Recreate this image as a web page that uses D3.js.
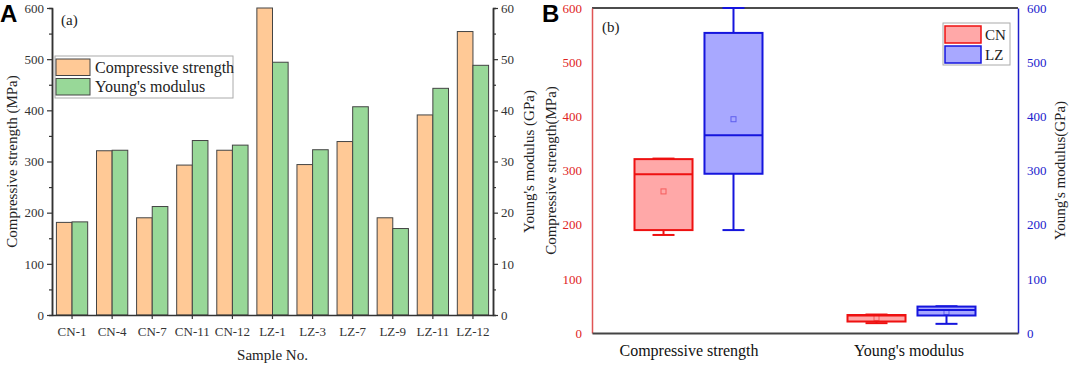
<!DOCTYPE html>
<html>
<head>
<meta charset="utf-8">
<script src="https://cdn.jsdelivr.net/npm/d3@7"></script>
<style>
  body { margin: 0; background: #fff; }
  svg { font-family: "Liberation Serif", "Times New Roman", serif; }
  .axis text { font-size: 13px; }
</style>
</head>
<body>
<svg id="chart" width="1072" height="366"></svg>
<script>
//data
var samples = ['CN-1', 'CN-4', 'CN-7', 'CN-11', 'CN-12', 'LZ-1', 'LZ-3', 'LZ-7', 'LZ-9', 'LZ-11', 'LZ-12'];
var compressive = [181, 321, 190, 293, 322, 600, 294, 339, 190, 391, 554];
var youngs = [18.2, 32.2, 21.2, 34.1, 33.2, 49.4, 32.3, 40.7, 16.9, 44.3, 48.8];
var barSeries = ['Compressive strength', "Young's modulus"];
var properties = ['Compressive strength', "Young's modulus"];
var groups = ['CN', 'LZ'];
var leftTicksA = [0, 100, 200, 300, 400, 500, 600];
var rightTicksA = [0, 10, 20, 30, 40, 50, 60];
var ticksB = [0, 100, 200, 300, 400, 500, 600];

//colors
var barFill = ['#ffc996', '#98d898'];
var boxStroke = {CN: '#ee1111', LZ: '#1515dd'};
var boxFill = {CN: '#ffa8a8', LZ: '#a8a8ff'};
var axisGray = '#333';

var svg = d3.select('#chart');

// ---------- panel A ----------
var aLeft = 52, aRight = 493, aTop = 8, aBottom = 315;

var xA = d3.scaleBand().domain(samples).range([aLeft, aRight]).paddingInner(0.22).paddingOuter(0.11);
var yA = d3.scaleLinear().domain([0, 600]).range([aBottom, aTop]);
var yA2 = d3.scaleLinear().domain([0, 60]).range([aBottom, aTop]);

var gA = svg.append('g');

samples.forEach(function(s, i) {
    var half = xA.bandwidth() / 2;
    gA.append('rect')
        .attr('x', xA(s))
        .attr('y', yA(compressive[i]))
        .attr('width', half)
        .attr('height', yA(0) - yA(compressive[i]))
        .attr('fill', barFill[0])
        .attr('stroke', '#444')
        .attr('stroke-width', 1);
    gA.append('rect')
        .attr('x', xA(s) + half)
        .attr('y', yA2(youngs[i]))
        .attr('width', half)
        .attr('height', yA2(0) - yA2(youngs[i]))
        .attr('fill', barFill[1])
        .attr('stroke', '#444')
        .attr('stroke-width', 1);
});

function styleAxis(g, color) {
    g.selectAll('path').attr('stroke', color).attr('stroke-width', 1.5);
    g.selectAll('line').attr('stroke', color).attr('stroke-width', 1.2);
    g.selectAll('text').attr('fill', color).style('font-size', '13px')
        .style('font-family', '"Liberation Serif", serif');
}

// minor ticks
var minorA = gA.append('g').attr('transform', 'translate(' + aLeft + ',0)')
    .call(d3.axisLeft(yA).tickValues(d3.range(50, 600, 100)).tickSize(3).tickFormat(''));
styleAxis(minorA, axisGray);
var minorA2 = gA.append('g').attr('transform', 'translate(' + aRight + ',0)')
    .call(d3.axisRight(yA2).tickValues(d3.range(5, 60, 10)).tickSize(3).tickFormat(''));
styleAxis(minorA2, axisGray);

var leftAxisA = gA.append('g').attr('class', 'axis')
    .attr('transform', 'translate(' + aLeft + ',0)')
    .call(d3.axisLeft(yA).tickValues(leftTicksA).tickSize(5).tickSizeOuter(0));
styleAxis(leftAxisA, axisGray);

var rightAxisA = gA.append('g').attr('class', 'axis')
    .attr('transform', 'translate(' + aRight + ',0)')
    .call(d3.axisRight(yA2).tickValues(rightTicksA).tickSize(5).tickSizeOuter(0));
styleAxis(rightAxisA, axisGray);

var bottomAxisA = gA.append('g').attr('class', 'axis')
    .attr('transform', 'translate(0,' + aBottom + ')')
    .call(d3.axisBottom(xA).tickSize(4).tickSizeOuter(0));
styleAxis(bottomAxisA, axisGray);
bottomAxisA.selectAll('text').attr('dy', '1.05em');

gA.append('text')
    .attr('transform', 'translate(' + 17 + ',' + ((aTop + aBottom) / 2) + ') rotate(-90)')
    .attr('text-anchor', 'middle')
    .style('font-size', '15px')
    .attr('fill', '#222')
    .text('Compressive strength (MPa)');

gA.append('text')
    .attr('transform', 'translate(' + 534 + ',' + ((aTop + aBottom) / 2) + ') rotate(-90)')
    .attr('text-anchor', 'middle')
    .style('font-size', '15px')
    .attr('fill', '#222')
    .text("Young's modulus (GPa)");

gA.append('text')
    .attr('x', (aLeft + aRight) / 2)
    .attr('y', 360)
    .attr('text-anchor', 'middle')
    .style('font-size', '15px')
    .attr('fill', '#222')
    .text('Sample No.');

gA.append('text')
    .attr('x', 61)
    .attr('y', 25)
    .style('font-size', '15px')
    .attr('fill', '#222')
    .text('(a)');

// legend A
var legA = gA.append('g').attr('transform', 'translate(55,56)');
legA.append('rect').attr('width', 178).attr('height', 42)
    .attr('fill', '#fff').attr('stroke', '#aaa').attr('stroke-width', 1);
barSeries.forEach(function(name, i) {
    legA.append('rect')
        .attr('x', 1).attr('y', 3 + i * 19.5)
        .attr('width', 34).attr('height', 16.5)
        .attr('fill', barFill[i]).attr('stroke', '#444');
    legA.append('text')
        .attr('x', 40).attr('y', 16.5 + i * 19.5)
        .style('font-size', '16px')
        .attr('fill', '#222')
        .text(name);
});

// ---------- panel B ----------
var bLeft = 592, bRight = 1018, bTop = 8, bBottom = 333;

var xB = d3.scalePoint().domain(properties).range([bLeft, bRight]).padding(0.5);
var subB = d3.scaleBand().domain(groups).range([-64, 64]).paddingInner(0.171);
var yB = d3.scaleLinear().domain([0, 600]).range([bBottom, bTop]);
var yB2 = d3.scaleLinear().domain([0, 600]).range([bBottom, bTop]);

var gB = svg.append('g');

// frame
gB.append('line').attr('x1', bLeft).attr('x2', bRight).attr('y1', bTop).attr('y2', bTop)
    .attr('stroke', '#111').attr('stroke-width', 1.5);

function hinges(values) {
    var v = values.slice().sort(d3.ascending);
    var n = v.length, h = Math.ceil(n / 2);
    var lower = v.slice(0, h), upper = v.slice(n - h);
    return {
        min: v[0],
        q1: d3.median(lower),
        med: d3.median(v),
        q3: d3.median(upper),
        max: v[n - 1],
        mean: d3.mean(v)
    };
}

var seriesBy = {'Compressive strength': compressive, "Young's modulus": youngs};

properties.forEach(function(prop, pi) {
    var yS = pi == 0 ? yB : yB2;
    groups.forEach(function(grp) {
        var vals = seriesBy[prop].filter(function(d, i) {
            return samples[i].indexOf(grp) == 0;
        });
        var st = hinges(vals);
        var cx = xB(prop) + subB(grp) + subB.bandwidth() / 2;
        var bw = subB.bandwidth();
        var col = boxStroke[grp];
        var box = gB.append('g');
        // whiskers
        box.append('line').attr('x1', cx).attr('x2', cx)
            .attr('y1', yS(st.max)).attr('y2', yS(st.q3))
            .attr('stroke', col).attr('stroke-width', 2);
        box.append('line').attr('x1', cx).attr('x2', cx)
            .attr('y1', yS(st.q1)).attr('y2', yS(st.min))
            .attr('stroke', col).attr('stroke-width', 2);
        [st.min, st.max].forEach(function(v) {
            box.append('line').attr('x1', cx - 11).attr('x2', cx + 11)
                .attr('y1', yS(v)).attr('y2', yS(v))
                .attr('stroke', col).attr('stroke-width', 2);
        });
        box.append('rect')
            .attr('x', cx - bw / 2).attr('y', yS(st.q3))
            .attr('width', bw).attr('height', yS(st.q1) - yS(st.q3))
            .attr('fill', boxFill[grp]).attr('stroke', col).attr('stroke-width', 2);
        box.append('line').attr('x1', cx - bw / 2).attr('x2', cx + bw / 2)
            .attr('y1', yS(st.med)).attr('y2', yS(st.med))
            .attr('stroke', col).attr('stroke-width', 2);
        box.append('rect')
            .attr('x', cx - 2.5).attr('y', yS(st.mean) - 2.5)
            .attr('width', 5).attr('height', 5)
            .attr('fill', 'none').attr('stroke', col).attr('stroke-opacity', 0.5).attr('stroke-width', 1);
    });
});

var leftAxisB = gB.append('g').attr('class', 'axis')
    .attr('transform', 'translate(' + bLeft + ',0)')
    .call(d3.axisLeft(yB).tickValues(ticksB).tickSize(0).tickPadding(10).tickSizeOuter(0));
styleAxis(leftAxisB, '#e02424');
leftAxisB.select('path').attr('stroke', '#e05555');

var rightAxisB = gB.append('g').attr('class', 'axis')
    .attr('transform', 'translate(' + bRight + ',0)')
    .call(d3.axisRight(yB2).tickValues(ticksB).tickSize(0).tickPadding(9).tickSizeOuter(0));
styleAxis(rightAxisB, '#2020cc');

var bottomAxisB = gB.append('g').attr('class', 'axis')
    .attr('transform', 'translate(0,' + bBottom + ')')
    .call(d3.axisBottom(xB).tickSize(0).tickPadding(7).tickSizeOuter(0));
styleAxis(bottomAxisB, '#444');
bottomAxisB.select('path').attr('stroke-width', 2);
bottomAxisB.selectAll('text').style('font-size', '16px').attr('fill', '#111').attr('dy', '1em')
    .attr('dx', function(d, i) { return i == 0 ? -10 : -3; });

gB.append('text')
    .attr('transform', 'translate(' + 556 + ',' + ((bTop + bBottom) / 2) + ') rotate(-90)')
    .attr('text-anchor', 'middle')
    .style('font-size', '15px')
    .attr('fill', '#222')
    .text('Compressive strength(MPa)');

gB.append('text')
    .attr('transform', 'translate(' + 1065 + ',' + ((bTop + bBottom) / 2) + ') rotate(-90)')
    .attr('text-anchor', 'middle')
    .style('font-size', '15px')
    .attr('fill', '#222')
    .text("Young's modulus(GPa)");

gB.append('text')
    .attr('x', 602)
    .attr('y', 32)
    .style('font-size', '15px')
    .attr('fill', '#222')
    .text('(b)');

// legend B
var legB = gB.append('g').attr('transform', 'translate(943,23)');
legB.append('rect').attr('width', 67).attr('height', 42)
    .attr('fill', '#fff').attr('stroke', '#aaa').attr('stroke-width', 1);
groups.forEach(function(grp, i) {
    legB.append('rect')
        .attr('x', 2).attr('y', 3 + i * 20)
        .attr('width', 36).attr('height', 17)
        .attr('fill', boxFill[grp]).attr('stroke', boxStroke[grp]).attr('stroke-width', 1.5);
    legB.append('text')
        .attr('x', 42).attr('y', 17 + i * 20)
        .style('font-size', '15px')
        .attr('fill', '#222')
        .text(grp);
});

// panel letters
svg.append('text').attr('x', 0).attr('y', 22)
    .style('font-family', '"Liberation Sans", Arial, sans-serif')
    .style('font-weight', 'bold').style('font-size', '24px')
    .text('A');
svg.append('text').attr('x', 542).attr('y', 22)
    .style('font-family', '"Liberation Sans", Arial, sans-serif')
    .style('font-weight', 'bold').style('font-size', '24px')
    .text('B');
</script>
</body>
</html>
